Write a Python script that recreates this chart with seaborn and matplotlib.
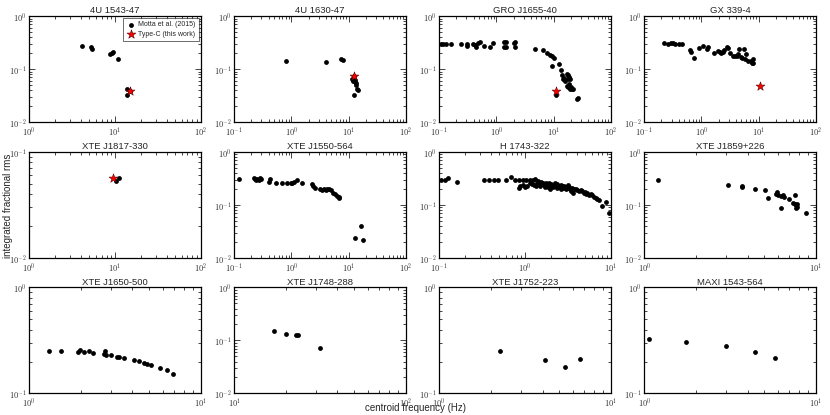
import numpy as np
import pandas as pd
import matplotlib
matplotlib.use('Agg')
import matplotlib.pyplot as plt
import seaborn as sns
from matplotlib.ticker import LogLocator, FuncFormatter, NullFormatter

# Motta et al. (2015) type-C QPOs: centroid frequency (Hz) and integrated rms
u1543_x = [4.18, 5.23, 5.47, 8.87, 9.19, 9.5, 10.8, 14.0, 13.7, 14.9]
u1543_y = [0.27, 0.259, 0.241, 0.191, 0.20, 0.208, 0.156, 0.042, 0.033, 0.0386]

u1630_x = [0.80, 4.03, 7.5, 7.9, 11.5, 12.3, 12.0, 12.8, 13.2, 13.6, 13.4, 14.0, 14.7, 12.7]
u1630_y = [0.143, 0.139, 0.153, 0.15, 0.065, 0.073, 0.060, 0.058, 0.062, 0.055, 0.050, 0.043, 0.040, 0.032]

gro_x = [0.107, 0.117, 0.129, 0.164, 0.239, 0.308, 0.31, 0.393, 0.43, 0.44, 0.48, 0.513,
         0.595, 0.768, 0.889, 1.35, 1.36, 1.5, 1.5, 2.02, 2.13, 2.13,
         4.7, 6.4, 7.7, 8.5, 9.3, 10.1, 9.5, 12.5, 13.2, 14.2, 14.7, 15.0, 17.2, 17.8,
         18.6, 19.1, 16.9, 18.0, 19.5, 21.0, 19.5, 26.0, 26.5, 11.0, 16.0, 17.5, 20.0,
         22.0, 18.5]
gro_y = [0.30, 0.30, 0.30, 0.30, 0.295, 0.30, 0.27, 0.30, 0.28, 0.26, 0.31, 0.32,
         0.27, 0.26, 0.31, 0.33, 0.26, 0.33, 0.26, 0.31, 0.33, 0.26,
         0.237, 0.228, 0.205, 0.187, 0.175, 0.163, 0.115, 0.125, 0.097, 0.077, 0.065, 0.068,
         0.082, 0.079, 0.071, 0.064, 0.049, 0.047, 0.045, 0.042, 0.042, 0.027, 0.029, 0.033,
         0.061, 0.066, 0.046, 0.043, 0.052]

gx_x = [0.224, 0.26, 0.29, 0.32, 0.35, 0.40, 0.46, 0.637, 0.65, 0.75, 0.89, 1.06, 1.24,
        1.3, 1.67, 1.94, 2.1, 2.2, 2.4, 2.5, 2.8, 2.85, 3.1, 3.5, 3.8, 4.1, 4.3, 4.6,
        4.9, 5.1, 5.6, 5.8, 6.0, 6.4, 7.4, 7.7, 8.0, 7.9]
gx_y = [0.313, 0.30, 0.31, 0.31, 0.30, 0.30, 0.30, 0.234, 0.215, 0.160, 0.255, 0.27,
        0.245, 0.26, 0.20, 0.22, 0.21, 0.20, 0.21, 0.228, 0.26, 0.255, 0.20, 0.18, 0.175,
        0.177, 0.19, 0.24, 0.168, 0.16, 0.245, 0.155, 0.19, 0.145, 0.14, 0.128, 0.128, 0.155]

j1817_x = [10.3, 11.2]
j1817_y = [0.0527, 0.0564]

j1550_x = [0.122, 0.224, 0.235, 0.245, 0.255, 0.27, 0.285, 0.30, 0.40, 0.43, 0.55, 0.68,
           0.83, 0.99, 1.04, 1.12, 1.27, 1.53, 2.3, 2.4, 2.6, 3.2, 3.5, 3.8, 4.0, 4.2, 4.5,
           4.9, 5.3, 5.7, 6.3, 6.7, 6.8, 13.2, 16.6, 18.0]
j1550_y = [0.31, 0.32, 0.31, 0.30, 0.31, 0.30, 0.32, 0.31, 0.27, 0.31, 0.263, 0.263,
           0.255, 0.255, 0.263, 0.275, 0.295, 0.255, 0.25, 0.224, 0.21, 0.20, 0.19, 0.197,
           0.19, 0.20, 0.197, 0.19, 0.17, 0.158, 0.147, 0.137, 0.14, 0.0236, 0.040, 0.022]

h1743_x = [0.104, 0.116, 0.127, 0.163, 0.33, 0.38, 0.43, 0.48, 0.60, 0.69, 0.76, 0.85, 0.94,
           1.03, 1.13, 1.24, 1.31, 0.85, 0.88, 0.96, 1.01, 1.06,
           1.15, 1.20, 1.26, 1.33, 1.38, 1.43, 1.48, 1.51, 1.55, 1.60, 1.66, 1.70, 1.74, 1.78,
           1.81, 1.86, 1.89, 1.95, 1.98, 2.02, 2.08, 2.14, 2.17, 2.21, 2.27, 2.33, 2.37, 2.42,
           2.49, 2.55, 2.60, 2.64, 2.70, 2.77, 2.84, 2.90, 2.97, 3.04, 3.11, 3.18, 3.25, 3.32,
           3.40, 3.50, 3.60, 3.72, 3.88, 4.07, 4.25, 4.45, 4.62, 4.87, 4.98, 5.1, 5.33, 5.57,
           5.83, 6.1, 6.38, 6.68, 6.98, 7.3, 8.0, 8.7, 9.6]
h1743_y = [0.30, 0.30, 0.32, 0.27, 0.30, 0.30, 0.30, 0.30, 0.30, 0.33, 0.30, 0.30, 0.30,
           0.30, 0.30, 0.30, 0.31, 0.21, 0.23, 0.24, 0.22, 0.23,
           0.26, 0.245, 0.24, 0.23, 0.26, 0.28, 0.245, 0.23, 0.27, 0.26, 0.24, 0.22, 0.26,
           0.245, 0.23, 0.215, 0.255, 0.235, 0.20, 0.245, 0.23, 0.215, 0.235, 0.255, 0.225,
           0.21, 0.245, 0.23, 0.215, 0.23, 0.20, 0.24, 0.225, 0.21, 0.23, 0.215, 0.195, 0.22,
           0.21, 0.235, 0.215, 0.197, 0.185, 0.21, 0.17, 0.197, 0.20, 0.19, 0.185, 0.19, 0.18,
           0.17, 0.175, 0.16, 0.165, 0.155, 0.158, 0.15, 0.142, 0.137, 0.13, 0.125, 0.095,
           0.115, 0.071]

j1859_x = [1.21, 3.08, 3.69, 3.72, 4.41, 5.03, 5.23, 5.83, 5.96, 6.02, 6.3, 6.4, 6.5, 6.25,
           6.98, 7.36, 7.6, 7.6, 7.7, 7.8, 7.8, 7.7, 8.7]
j1859_y = [0.29, 0.241, 0.224, 0.22, 0.202, 0.188, 0.137, 0.158, 0.175, 0.152, 0.145,
           0.15, 0.143, 0.087, 0.127, 0.11, 0.153, 0.105, 0.098, 0.092, 0.105, 0.088, 0.071]

j1650_x = [1.31, 1.53, 1.92, 1.99, 2.08, 2.23, 2.36, 2.72, 2.76, 2.80, 3.02, 3.26, 3.35,
           3.59, 4.11, 4.38, 4.69, 4.9, 5.17, 5.77, 6.4, 6.88]
j1650_y = [0.249, 0.249, 0.245, 0.257, 0.245, 0.253, 0.24, 0.233, 0.249, 0.228, 0.228,
           0.223, 0.22, 0.215, 0.207, 0.203, 0.195, 0.19, 0.186, 0.175, 0.165, 0.152]

j1748_x = [17.1, 20.0, 22.9, 23.7, 31.6]
j1748_y = [0.152, 0.135, 0.127, 0.124, 0.073]

j1752_x = [2.25, 4.13, 5.39, 6.57]
j1752_y = [0.249, 0.206, 0.179, 0.213]

maxi_x = [1.06, 1.75, 3.01, 4.41, 5.8]
maxi_y = [0.327, 0.303, 0.278, 0.245, 0.218]

# type-C QPOs from this work (only for 5 sources)
star_x = {'4U 1543-47': [15.0], '4U 1630-47': [12.3], 'GRO J1655-40': [10.8],
          'GX 339-4': [10.5], 'XTE J1817-330': [9.4]}
star_y = {'4U 1543-47': [0.039], '4U 1630-47': [0.074], 'GRO J1655-40': [0.038],
          'GX 339-4': [0.049], 'XTE J1817-330': [0.0568]}

names = ['4U 1543-47', '4U 1630-47', 'GRO J1655-40', 'GX 339-4',
         'XTE J1817-330', 'XTE J1550-564', 'H 1743-322', 'XTE J1859+226',
         'XTE J1650-500', 'XTE J1748-288', 'XTE J1752-223', 'MAXI 1543-564']
xs = [u1543_x, u1630_x, gro_x, gx_x, j1817_x, j1550_x, h1743_x, j1859_x,
      j1650_x, j1748_x, j1752_x, maxi_x]
ys = [u1543_y, u1630_y, gro_y, gx_y, j1817_y, j1550_y, h1743_y, j1859_y,
      j1650_y, j1748_y, j1752_y, maxi_y]
xlims = [(1, 100), (0.1, 100), (0.1, 100), (0.1, 100),
         (1, 100), (0.1, 100), (0.1, 10), (1, 10),
         (1, 10), (10, 100), (1, 10), (1, 10)]
ylims = [(0.01, 1), (0.01, 1), (0.01, 1), (0.01, 1),
         (0.01, 0.1), (0.01, 1), (0.01, 1), (0.01, 1),
         (0.1, 1), (0.01, 1), (0.1, 1), (0.1, 1)]

sns.set_style('ticks')
plt.rcParams['font.family'] = ['Liberation Sans', 'DejaVu Sans']
plt.rcParams['mathtext.fontset'] = 'cm'

fig, axes = plt.subplots(3, 4, figsize=(8.3, 4.15), dpi=100)
fig.subplots_adjust(left=0.035, right=0.983, top=0.961, bottom=0.052,
                    wspace=0.195, hspace=0.28)

pow_fmt = FuncFormatter(lambda v, p: r'$10^{%d}$' % int(round(np.log10(v))))

for i, ax in enumerate(axes.flat):
    name = names[i]
    df = pd.DataFrame({'freq': xs[i], 'rms': ys[i]})
    sns.scatterplot(data=df, x='freq', y='rms', ax=ax, color='black', s=12,
                    linewidth=0, label='Motta et al. (2015)' if i == 0 else None)
    if name in star_x:
        sdf = pd.DataFrame({'freq': star_x[name], 'rms': star_y[name]})
        sns.scatterplot(data=sdf, x='freq', y='rms', ax=ax, marker='*', color='red',
                        edgecolor='#550000', linewidth=0.4, s=45,
                        label='Type-C (this work)' if i == 0 else None)
    ax.set_xscale('log')
    ax.set_yscale('log')
    ax.set_xlim(*xlims[i])
    ax.set_ylim(*ylims[i])
    ax.xaxis.set_major_locator(LogLocator(base=10))
    ax.yaxis.set_major_locator(LogLocator(base=10))
    ax.xaxis.set_minor_locator(LogLocator(base=10, subs=np.arange(2, 10)))
    ax.yaxis.set_minor_locator(LogLocator(base=10, subs=np.arange(2, 10)))
    ax.xaxis.set_major_formatter(pow_fmt)
    ax.yaxis.set_major_formatter(pow_fmt)
    ax.xaxis.set_minor_formatter(NullFormatter())
    ax.yaxis.set_minor_formatter(NullFormatter())
    ax.tick_params(which='both', direction='in', top=True, right=True,
                   labelsize=6, labelcolor='#333333', width=0.6, pad=2)
    ax.tick_params(which='major', length=4)
    ax.tick_params(which='minor', length=2)
    for sp in ax.spines.values():
        sp.set_linewidth(0.9)
        sp.set_color('black')
    ax.set_xlabel('')
    ax.set_ylabel('')
    ax.set_title(name, fontsize=6.8, pad=2)
    if i == 0:
        leg = ax.legend(loc='upper right', fontsize=5, frameon=True, fancybox=False,
                        edgecolor='black', borderpad=0.45, handletextpad=0.4,
                        labelspacing=0.35, markerscale=1.0, handlelength=1.3,
                        borderaxespad=0.3)
        leg.get_frame().set_linewidth(0.5)
    elif ax.get_legend() is not None:
        ax.get_legend().remove()

fig.text(0.004, 0.505, 'integrated fractional rms', rotation=90, fontsize=7,
         va='center', ha='left')
fig.text(0.5, 0.005, 'centroid frequency (Hz)', fontsize=7, ha='center', va='bottom')

fig.savefig('out.png', dpi=100)
